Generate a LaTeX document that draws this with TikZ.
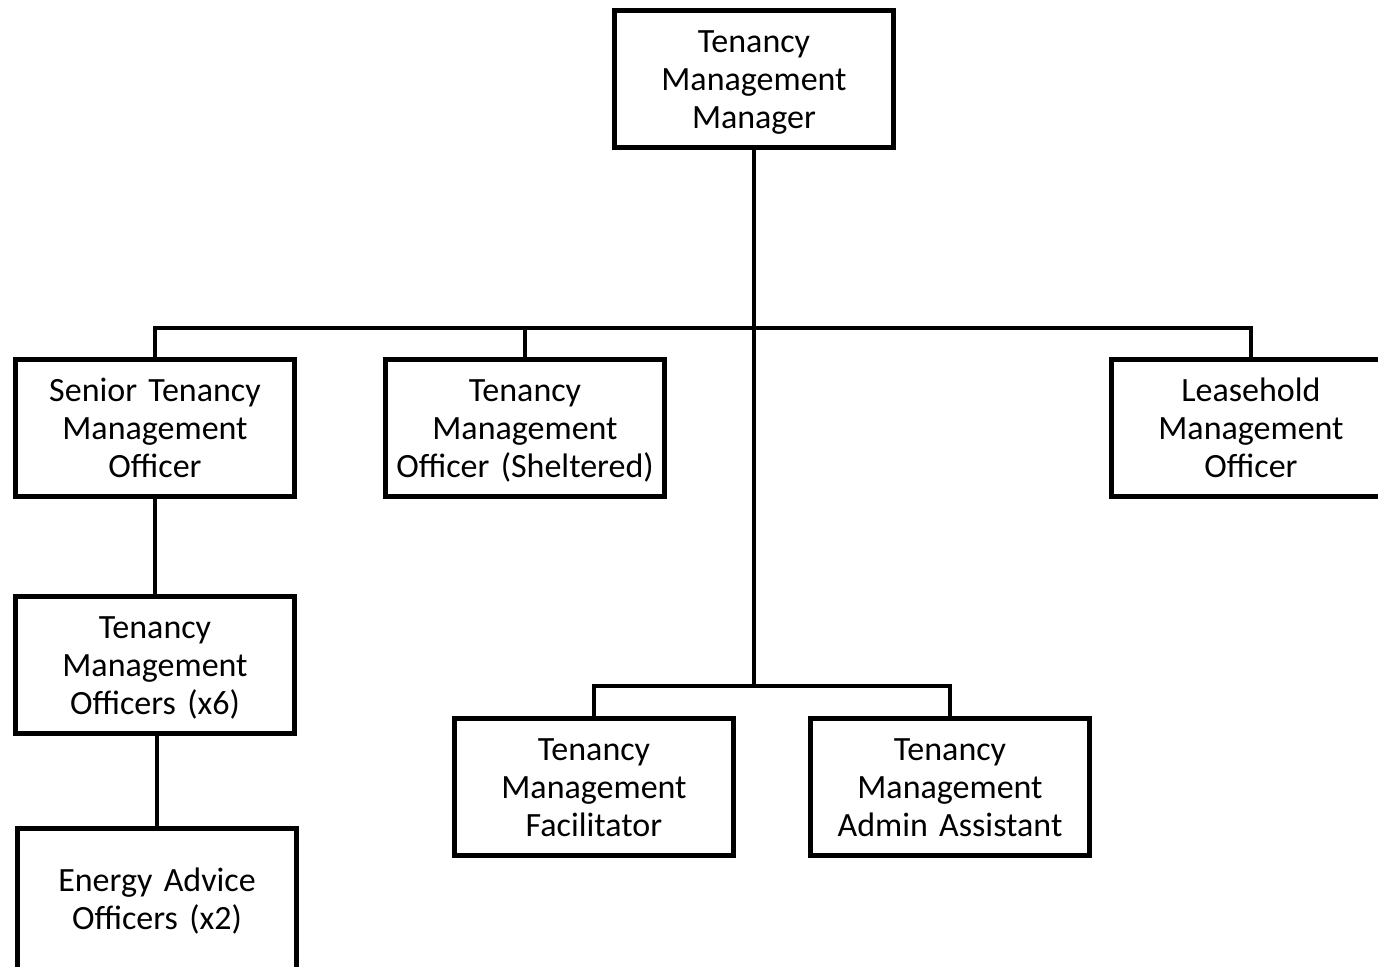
\documentclass[tikz,border=0pt]{standalone}
\usepackage{fontspec}
\setmainfont{Carlito}
\newcommand{\strtop}{\rule{0pt}{16pt}}
\newcommand{\strbot}{\rule[-5pt]{0pt}{5pt}}
\begin{document}
\begin{tikzpicture}[x=0.5pt,y=-0.5pt,
  box/.style={draw=black,line width=2.4pt,fill=white,minimum width=139.5pt,minimum height=68.5pt,
    text width=136pt,align=center,inner sep=0pt,font=\fontsize{17}{19}\selectfont},
  link/.style={draw=black,line width=2.4pt,line cap=rect}]
\useasboundingbox (0,0) rectangle (1378,966);
\clip (0,0) rectangle (1378,966);
\fill[white] (0,0) rectangle (1378,966);
\coordinate (b1) at (754,328);
\coordinate (b2) at (754,686);
\node[box] (top) at (754,79) {\strtop Tenancy\\Management\\Manager\strbot};
\node[box] (stmo) at (155,428) {\strtop Senior Tenancy\\Management\\Officer\strbot};
\node[box] (tmos) at (525,428) {\strtop Tenancy\\Management\\Officer (Sheltered)\strbot};
\node[box] (lmo) at (1251,428) {\strtop Leasehold\\Management\\Officer\strbot};
\node[box] (tmo6) at (155,665) {\strtop Tenancy\\Management\\Officers (x6)\strbot};
\node[box,minimum height=70.6pt] (eao) at (157,899) {\strtop Energy Advice\\Officers (x2)\strbot};
\node[box] (fac) at (594,787) {\strtop Tenancy\\Management\\Facilitator\strbot};
\node[box] (adm) at (950,787) {\strtop Tenancy\\Management\\Admin Assistant\strbot};
\draw[link] (top.south) -- (b2);
\draw[link] (stmo.north) -- (stmo.north |- b1) -- (lmo.north |- b1) -- (lmo.north);
\draw[link] (tmos.north) -- (tmos.north |- b1);
\draw[link] (fac.north) -- (fac.north |- b2) -- (adm.north |- b2) -- (adm.north);
\draw[link] (stmo.south) -- (tmo6.north);
\draw[link] (eao.north |- tmo6.south) -- (eao.north);
\end{tikzpicture}
\end{document}
